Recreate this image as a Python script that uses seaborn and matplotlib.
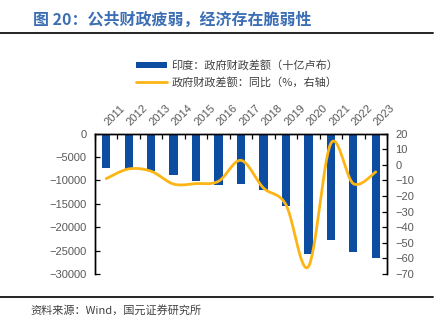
import numpy as np
import pandas as pd
import matplotlib
matplotlib.use("Agg")
import matplotlib.pyplot as plt
from matplotlib.lines import Line2D
from matplotlib.patches import Patch
import seaborn as sns

# India: general government fiscal balance (billion rupees) and its YoY change (%)
years = ["2011", "2012", "2013", "2014", "2015", "2016", "2017",
         "2018", "2019", "2020", "2021", "2022", "2023"]
deficit = [-7430, -7500, -7930, -8930, -10070, -11070, -10710,
           -12140, -15570, -25710, -22710, -25360, -26640]
yoy = [-8.9, -2.7, -4.2, -12.4, -12.1, -10.6, 2.8,
       -14.9, -25.6, -65.3, 13.6, -12.1, -4.6]

left_ticks = [0, -5000, -10000, -15000, -20000, -25000, -30000]
right_ticks = [20, 10, 0, -10, -20, -30, -40, -50, -60, -70]

title = "图 20：公共财政疲弱，经济存在脆弱性"
bar_label = "印度：政府财政差额（十亿卢布）"
line_label = "政府财政差额：同比（%，右轴）"
source = "资料来源：Wind，国元证券研究所"

BLUE = "#0C4DA2"
GOLD = "#FDB515"
GREY = "#595959"

sns.set_theme(style="white")
plt.rcParams["font.family"] = ["Liberation Sans", "Noto Sans CJK SC", "DejaVu Sans"]
cjk = ["Noto Sans CJK SC", "DejaVu Sans"]


def smooth_curve(xv, yv, n=30):
    """Catmull-Rom style smoothing of a polyline (like a spreadsheet smoothed line)."""
    xv = np.asarray(xv, float)
    yv = np.asarray(yv, float)
    px = np.concatenate([[xv[0]], xv, [xv[-1]]])
    py = np.concatenate([[yv[0]], yv, [yv[-1]]])
    out_x, out_y = [], []
    t = np.linspace(0, 1, n, endpoint=False)
    for i in range(1, len(px) - 2):
        p0, p1, p2, p3 = (np.array([px[j], py[j]]) for j in range(i - 1, i + 3))
        c1 = p1 + (p2 - p0) / 6.0
        c2 = p2 - (p3 - p1) / 6.0
        seg = ((1 - t) ** 3)[:, None] * p1 + (3 * (1 - t) ** 2 * t)[:, None] * c1 \
            + (3 * (1 - t) * t ** 2)[:, None] * c2 + (t ** 3)[:, None] * p2
        out_x.extend(seg[:, 0])
        out_y.extend(seg[:, 1])
    out_x.append(xv[-1])
    out_y.append(yv[-1])
    return np.array(out_x), np.array(out_y)


df = pd.DataFrame({"year": years, "deficit": deficit, "yoy": yoy})

fig = plt.figure(figsize=(4.48, 3.34), dpi=100)
ax = fig.add_axes([95 / 448, 1 - 274 / 334, 292 / 448, 140.5 / 334])

sns.barplot(data=df, x="year", y="deficit", ax=ax, color=BLUE,
            width=0.37, saturation=1, edgecolor="none")
ax.set_ylim(-30000, 0)
ax.set_yticks(left_ticks)
ax.set_xlim(-0.5, len(years) - 0.5)
ax.set_xlabel("")
ax.set_ylabel("")

ax2 = ax.twinx()
sx, sy = smooth_curve(np.arange(len(years)), df["yoy"])
sns.lineplot(x=sx, y=sy, ax=ax2, color=GOLD, linewidth=2.0, sort=False,
             estimator=None)
ax2.set_ylim(-70, 20)
ax2.set_yticks(right_ticks)
ax2.set_xlim(-0.5, len(years) - 0.5)

# x axis on top: labels centred on bars, tick marks on category boundaries
ax.xaxis.tick_top()
ax.set_xticks(np.arange(len(years)))
ax.set_xticklabels(years, rotation=45, ha="left", va="center",
                   rotation_mode="anchor", color=GREY, fontsize=8)
ax.tick_params(axis="x", which="major", length=0, pad=7)
ax.set_xticks(np.arange(len(years) + 1) - 0.5, minor=True)
ax.tick_params(axis="x", which="minor", direction="in", length=3.5,
               width=0.9, color="black", top=True, bottom=False)

ax.tick_params(axis="y", direction="in", length=3.5, width=0.9, color="black",
               labelcolor=GREY, labelsize=8, pad=6)
ax2.tick_params(axis="y", direction="in", length=3.5, width=0.9, color="black",
                labelcolor=GREY, labelsize=8, pad=6)

for a in (ax, ax2):
    for side in ("left", "right", "top"):
        a.spines[side].set_visible(True)
        a.spines[side].set_color("black")
        a.spines[side].set_linewidth(1.0)
    a.spines["bottom"].set_visible(False)
    a.grid(False)

handles = [Patch(facecolor=BLUE, edgecolor="none", label=bar_label),
           Line2D([0], [0], color=GOLD, linewidth=2.0, label=line_label)]
fig.legend(handles=handles, loc="upper left",
           bbox_to_anchor=(136 / 448, 1 - 60 / 334), frameon=False,
           prop={"family": cjk, "size": 8}, labelcolor="#404040",
           handlelength=2.8, handleheight=0.55, handletextpad=0.4,
           labelspacing=0.55, borderpad=0, borderaxespad=0)

fig.text(33 / 448, 1 - 20 / 334, title, color="#3C6EB4", fontsize=11.5,
         fontweight="bold", family=cjk, ha="left", va="center")
fig.text(30 / 448, 1 - 310 / 334, source, color="#404040", fontsize=8,
         family=cjk, ha="left", va="center")
fig.add_artist(Line2D([0, 433 / 448], [1 - 33 / 334] * 2, color="#222222",
                      linewidth=1.4, transform=fig.transFigure))
fig.add_artist(Line2D([0, 433 / 448], [1 - 297 / 334] * 2, color="#222222",
                      linewidth=1.4, transform=fig.transFigure))

fig.savefig("out.png", dpi=100, facecolor="white")
